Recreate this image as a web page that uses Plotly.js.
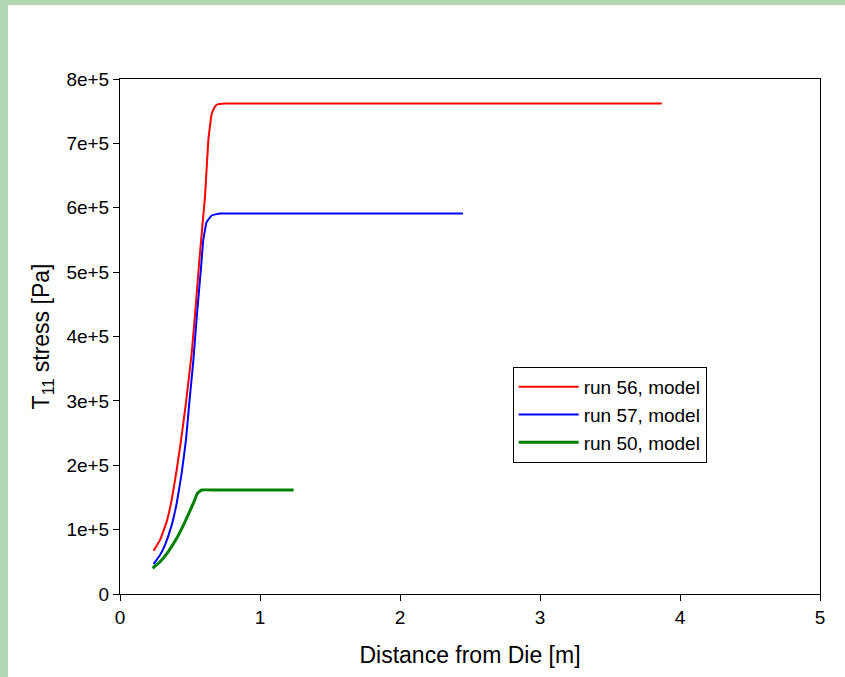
<!DOCTYPE html>
<html>
<head>
<meta charset="utf-8">
<script src="https://cdn.plot.ly/plotly-3.0.1.min.js"></script>
<style>
  html, body { margin: 0; padding: 0; width: 845px; height: 677px; overflow: hidden; background: #b3d7b1; }
  #chart { position: absolute; left: 8px; top: 5px; width: 837px; height: 672px; background: #ffffff; }
</style>
</head>
<body>
<div id="chart"></div>
<script>
// Distance from die [m] and T11 stress [Pa]
const run56X = [0.24, 0.286, 0.333, 0.369, 0.405, 0.436, 0.47, 0.512, 0.54, 0.567, 0.587, 0.607, 0.631, 0.655, 0.68, 0.702, 0.75, 1.0, 2.0, 3.0, 3.87];
const run56Y = [0.67e5, 0.84e5, 1.12e5, 1.46e5, 1.93e5, 2.39e5, 2.95e5, 3.74e5, 4.45e5, 5.19e5, 5.68e5, 6.17e5, 7.05e5, 7.46e5, 7.58e5, 7.61e5, 7.62e5, 7.62e5, 7.62e5, 7.62e5, 7.62e5];

const run57X = [0.24, 0.286, 0.321, 0.369, 0.405, 0.44, 0.471, 0.495, 0.524, 0.55, 0.578, 0.595, 0.619, 0.655, 0.714, 1.0, 2.0, 2.45];
const run57Y = [0.465e5, 0.605e5, 0.76e5, 1.07e5, 1.41e5, 1.87e5, 2.39e5, 2.97e5, 3.63e5, 4.35e5, 5.05e5, 5.5e5, 5.78e5, 5.88e5, 5.91e5, 5.91e5, 5.91e5, 5.91e5];

const run50X = [0.233, 0.286, 0.345, 0.405, 0.464, 0.524, 0.552, 0.583, 0.7, 1.0, 1.24];
const run50Y = [0.40e5, 0.50e5, 0.66e5, 0.865e5, 1.12e5, 1.41e5, 1.56e5, 1.615e5, 1.615e5, 1.615e5, 1.615e5];

const seriesNames = ['run 56, model', 'run 57, model', 'run 50, model'];
const yTickVals = [0, 1e5, 2e5, 3e5, 4e5, 5e5, 6e5, 7e5, 8e5];
const yTickText = ['0', '1e+5', '2e+5', '3e+5', '4e+5', '5e+5', '6e+5', '7e+5', '8e+5'];
const xTickVals = [0, 1, 2, 3, 4, 5];
const xTickText = ['0', '1', '2', '3', '4', '5'];

const FONT = 'Liberation Sans, Arial, sans-serif';

const traces = [
  { x: run56X, y: run56Y, name: seriesNames[0], mode: 'lines', line: { color: '#ff0000', width: 2, shape: 'spline', smoothing: 0.3 } },
  { x: run57X, y: run57Y, name: seriesNames[1], mode: 'lines', line: { color: '#0000ff', width: 2, shape: 'spline', smoothing: 0.3 } },
  { x: run50X, y: run50Y, name: seriesNames[2], mode: 'lines', line: { color: '#008000', width: 3, shape: 'spline', smoothing: 0.3 } }
];

const axisCommon = {
  showgrid: false, zeroline: false, showline: true, linecolor: '#000', linewidth: 1,
  mirror: true, ticks: 'outside', ticklen: 6, tickcolor: '#000', tickwidth: 1,
  tickfont: { family: FONT, size: 19, color: '#000' }
};

const layout = {
  width: 837, height: 672,
  paper_bgcolor: 'rgba(0,0,0,0)', plot_bgcolor: '#ffffff',
  margin: { l: 112, r: 25, t: 74, b: 83 },
  font: { family: FONT, color: '#000' },
  xaxis: Object.assign({}, axisCommon, {
    range: [0, 5], tickmode: 'array', tickvals: xTickVals, ticktext: xTickText,
    title: { text: 'Distance from Die [m]', font: { size: 23, family: FONT }, standoff: 20 }
  }),
  yaxis: Object.assign({}, axisCommon, {
    range: [0, 8e5], tickmode: 'array', tickvals: yTickVals, ticktext: yTickText,
    title: { text: 'T<sub>11</sub> stress [Pa]', font: { size: 23, family: FONT }, standoff: 10 }
  }),
  legend: {
    x: 0.561, y: 0.441, xanchor: 'left', yanchor: 'top',
    bgcolor: '#ffffff', bordercolor: '#000', borderwidth: 1,
    font: { size: 19, family: FONT, color: '#000' },
    itemwidth: 60, tracegroupgap: 0
  },
  showlegend: true
};

Plotly.newPlot('chart', traces, layout, { displayModeBar: false, staticPlot: true });
</script>
</body>
</html>
